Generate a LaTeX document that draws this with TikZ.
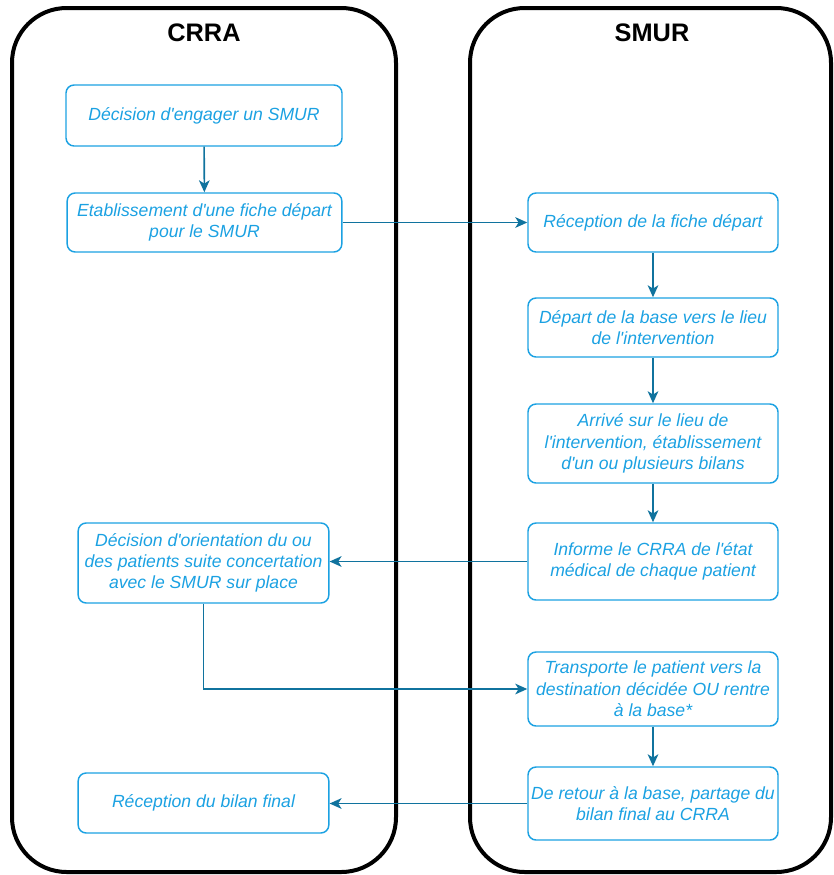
\documentclass[tikz,border=0pt]{standalone}
\usepackage{fontspec}
\setmainfont{Liberation Sans}
\usepackage{xcolor}
\usepackage{tikz}
\usetikzlibrary{arrows.meta, positioning, calc}

\definecolor{stepblue}{HTML}{1BA1E2}
\definecolor{linkblue}{HTML}{10739E}
\newcommand{\ap}{\textquotesingle}

\begin{document}
\begin{tikzpicture}[
    x=0.75pt, y=-0.75pt,
    lane/.style={
        rectangle, rounded corners=41pt, draw=black, line width=3pt,
        minimum height=648pt, inner sep=0pt
    },
    lanetitle/.style={font=\fontsize{19}{23}\selectfont\bfseries},
    stepbox/.style={
        rectangle, rounded corners=6pt, draw=stepblue, line width=1.1pt,
        text=stepblue, align=center, inner sep=2pt,
        font=\fontsize{13.2}{16}\selectfont\itshape
    },
    arr/.style={-{Stealth[length=9pt, width=8pt, inset=2.5pt]}, line width=1.2pt, linkblue}
]
\useasboundingbox (0,0) rectangle (833,875);

% Swimlanes
\node[lane, minimum width=288pt] (crra) at (204,440) {};
\node[lane, minimum width=270.75pt] (smur) at (650.5,440) {};
\node[lanetitle] (tcrra) at (204,33) {CRRA};
\node[lanetitle] (tsmur) at (652,33) {SMUR};

% CRRA side
\node[stepbox, minimum width=207pt, minimum height=45.75pt] (engage) at (204,115.5)
    {D\'ecision d\ap engager un SMUR};
\node[stepbox, minimum width=206pt, minimum height=44.25pt] (fiche) at (204.5,222.5)
    {Etablissement d\ap une fiche d\'epart\\pour le SMUR};
\node[stepbox, minimum width=188pt, minimum height=60pt] (orient) at (203.5,563)
    {D\'ecision d\ap orientation du ou\\des patients suite concertation\\avec le SMUR sur place};
\node[stepbox, minimum width=188pt, minimum height=45pt] (bilanrecu) at (203.5,803)
    {R\'eception du bilan final};

% SMUR side
\node[stepbox, minimum width=187.5pt, minimum height=44.25pt] (recep) at (653,222.5)
    {R\'eception de la fiche d\'epart};
\node[stepbox, minimum width=187.5pt, minimum height=44.25pt] (depart) at (653,327.5)
    {D\'epart de la base vers le lieu\\de l\ap intervention};
\node[stepbox, minimum width=187.5pt, minimum height=59.25pt] (arrive) at (653,443.5)
    {Arriv\'e sur le lieu de\\l\ap intervention, \'etablissement\\d\ap un ou plusieurs bilans};
\node[stepbox, minimum width=187.5pt, minimum height=57.75pt] (informe) at (653,561.5)
    {Informe le CRRA de l\ap\'etat\\m\'edical de chaque patient};
\node[stepbox, minimum width=187.5pt, minimum height=55.5pt] (transport) at (653,689)
    {Transporte le patient vers la\\destination d\'ecid\'ee OU rentre\\\`a la base*};
\node[stepbox, minimum width=187.5pt, minimum height=54.75pt] (retour) at (653,803.5)
    {De retour \`a la base, partage du\\bilan final au CRRA};

% Links
\draw[arr] (engage) -- (fiche);
\draw[arr] (fiche) -- (recep);
\draw[arr] (recep) -- (depart);
\draw[arr] (depart) -- (arrive);
\draw[arr] (arrive) -- (informe);
\draw[arr] (informe.west) -- (informe.west -| orient.east);
\draw[arr] (orient.south) |- (transport.west);
\draw[arr] (transport) -- (retour);
\draw[arr] (retour.west) -- (retour.west -| bilanrecu.east);

\end{tikzpicture}
\end{document}
